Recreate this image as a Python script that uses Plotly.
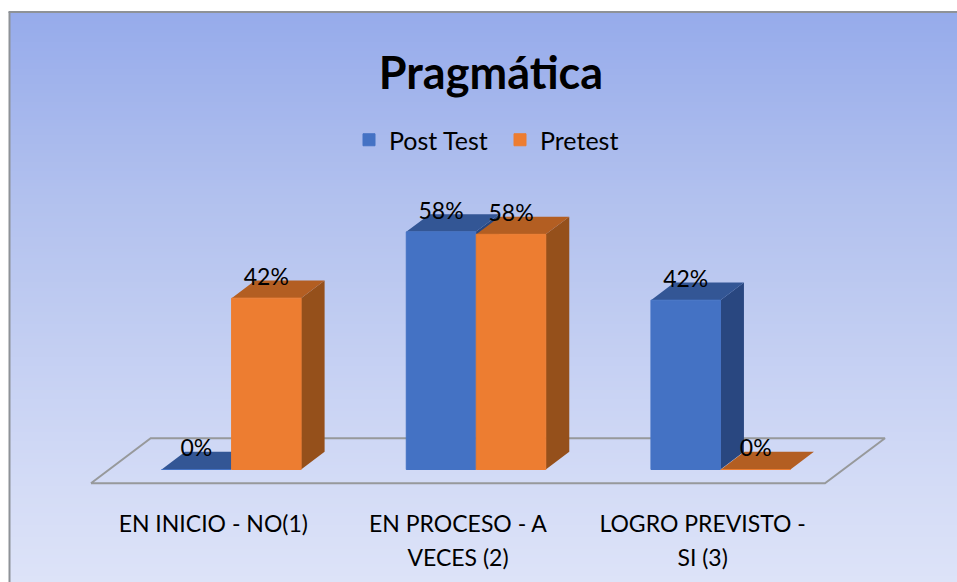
import plotly.graph_objects as go

categories_line1 = ["EN INICIO - NO(1)", "EN PROCESO - A", "LOGRO PREVISTO -"]
categories_line2 = ["", "VECES (2)", "SI (3)"]
post_test = [0, 58.1, 41.4]
pretest = [41.9, 57.5, 0]
label_post = ["0%", "58%", "42%"]
label_pre = ["42%", "58%", "0%"]
x_pos = [0, 1, 2]

W, H = 957, 582
PX_X = 244.67      # pixels per category
X0_PX = 213.3      # pixel of first category
PX_Y = 4.09        # pixels per percent
Y0_PX = 469.5      # pixel of zero
AX_TOP, AX_BOT = 100, 500

x_range = [(0 - X0_PX) / PX_X, (W - X0_PX) / PX_X]
y_range = [(Y0_PX - AX_BOT) / PX_Y, (Y0_PX - AX_TOP) / PX_Y]
y_dom = [1 - AX_BOT / H, 1 - AX_TOP / H]

BAR_W = 69.5 / PX_X
OFF_POST = -51.7 / PX_X
OFF_PRE = 18.3 / PX_X
DX = 23.5 / PX_X
DY = 17.7 / PX_Y
LABEL_UP = 19 / PX_Y

BLUE, BLUE_TOP, BLUE_SIDE = "#4472C4", "#335695", "#294780"
ORANGE, ORANGE_TOP, ORANGE_SIDE = "#ED7D31", "#B35E22", "#95501B"


def faces(values, off):
    sx, sy, tx, ty = [], [], [], []
    for c, v in zip(x_pos, values):
        a, b = c + off, c + off + BAR_W
        sx += [b, b + DX, b + DX, b, b, None]
        sy += [0, DY, v + DY, v, 0, None]
        tx += [a, b, b + DX, a + DX, a, None]
        ty += [v, v, v + DY, v + DY, v, None]
    return sx, sy, tx, ty


fig = go.Figure()

# floor
fx = [-0.5, 2.5, 2.5 + 60 / PX_X, -0.5 + 59.7 / PX_X, -0.5]
fy = [-13.8 / PX_Y, -13.8 / PX_Y, 31.2 / PX_Y, 31.2 / PX_Y, -13.8 / PX_Y]
fig.add_trace(go.Scatter(x=fx, y=fy, mode="lines", line=dict(color="#97999B", width=2),
                         showlegend=False, hoverinfo="skip"))

for vals, off, top, side in [(post_test, OFF_POST, BLUE_TOP, BLUE_SIDE),
                             (pretest, OFF_PRE, ORANGE_TOP, ORANGE_SIDE)]:
    sx, sy, tx, ty = faces(vals, off)
    fig.add_trace(go.Scatter(x=sx, y=sy, mode="none", fill="toself", fillcolor=side,
                             showlegend=False, hoverinfo="skip"))
    fig.add_trace(go.Scatter(x=tx, y=ty, mode="none", fill="toself", fillcolor=top,
                             showlegend=False, hoverinfo="skip"))

fig.add_trace(go.Bar(x=x_pos, y=post_test, name="Post Test", width=BAR_W, offset=OFF_POST,
                     marker=dict(color=BLUE, line=dict(width=1, color=BLUE)), xaxis="x2", yaxis="y2"))
fig.add_trace(go.Bar(x=x_pos, y=pretest, name="Pretest", width=BAR_W, offset=OFF_PRE,
                     marker=dict(color=ORANGE, line=dict(width=1, color=ORANGE)), xaxis="x2", yaxis="y2"))

for vals, off, labs in [(post_test, OFF_POST, label_post), (pretest, OFF_PRE, label_pre)]:
    fig.add_trace(go.Scatter(x=[c + off + BAR_W / 2 for c in x_pos],
                             y=[v + LABEL_UP for v in vals],
                             mode="text", text=labs, textposition="middle center",
                             textfont=dict(family="Lato", size=23, color="black"),
                             showlegend=False, hoverinfo="skip", xaxis="x2", yaxis="y2"))

# background gradient
stops = [(12, (150, 171, 235)), (200, (178, 193, 238)), (480, (211, 219, 246)), (582, (221, 227, 248))]


def grad(y):
    for (y1, c1), (y2, c2) in zip(stops, stops[1:]):
        if y <= y2:
            t = (y - y1) / (y2 - y1)
            return "rgb(%d,%d,%d)" % tuple(round(a + (b - a) * t) for a, b in zip(c1, c2))
    return "rgb(%d,%d,%d)" % stops[-1][1]


shapes = []
for y in range(12, 582, 3):
    shapes.append(dict(type="rect", xref="paper", yref="paper", layer="below",
                       x0=9.5 / W, x1=1, y0=1 - y / H, y1=1 - (y + 3) / H,
                       fillcolor=grad(y + 1.5), line=dict(width=0)))
shapes.append(dict(type="line", xref="paper", yref="paper", layer="below",
                   x0=8.5 / W, x1=1, y0=1 - 12 / H, y1=1 - 12 / H, line=dict(color="#8E9297", width=2)))
shapes.append(dict(type="line", xref="paper", yref="paper", layer="below",
                   x0=9.5 / W, x1=9.5 / W, y0=0, y1=1 - 12 / H, line=dict(color="#8E9297", width=2)))

axis_font = dict(family="Lato", size=23, color="black")
common = dict(range=x_range, domain=[0, 1], showgrid=False, zeroline=False, showline=False,
              tickmode="array", tickvals=x_pos, ticks="outside", tickcolor="rgba(0,0,0,0)",
              tickfont=axis_font, fixedrange=True)
fig.update_layout(
    width=W, height=H, margin=dict(l=0, r=0, t=0, b=0, pad=0, autoexpand=False),
    paper_bgcolor="white", plot_bgcolor="rgba(0,0,0,0)",
    barmode="overlay", shapes=shapes,
    title=dict(text="Pragmática", x=491 / W, xanchor="center", y=1 - 73 / H, yanchor="middle",
               font=dict(family="Lato", size=45, color="black", weight=700)),
    legend=dict(orientation="h", x=349 / W, xanchor="left", y=1 - 140 / H, yanchor="middle",
                entrywidth=106, entrywidthmode="pixels",
                bgcolor="rgba(0,0,0,0)", font=dict(family="Lato", size=25, color="black")),
    xaxis=dict(ticktext=categories_line1, ticklen=3, **common),
    xaxis2=dict(ticktext=categories_line2, ticklen=37, overlaying="x", anchor="y2", **common),
    yaxis=dict(range=y_range, domain=y_dom, visible=False, fixedrange=True),
    yaxis2=dict(range=y_range, domain=y_dom, visible=False, overlaying="y", anchor="x2", fixedrange=True),
)

fig.write_html("out.html", config=dict(displayModeBar=False),
               post_script="document.body.style.margin='0';")
